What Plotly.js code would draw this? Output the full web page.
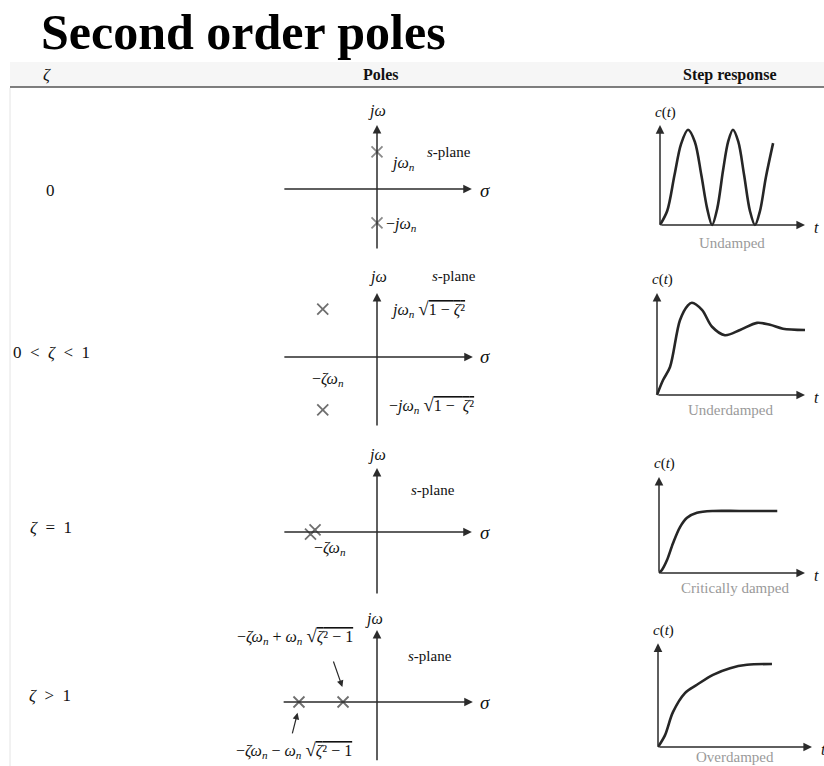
<!DOCTYPE html>
<html><head><meta charset="utf-8">
<script src="https://cdn.plot.ly/plotly-3.0.1.min.js"></script>
<style>html,body{margin:0;padding:0;background:#fff}</style>
</head><body><div id="plot" style="width:824px;height:766px"></div>
<script>
// ---------- data ----------
const rowLabels = ['0', '0  <  <i>ζ</i>  <  1', '<i>ζ</i>  =  1', '<i>ζ</i>  >  1'];
const captions = ['Undamped', 'Underdamped', 'Critically damped', 'Overdamped'];

// pole locations (units of ωn)
const polesUndampedRe = [0, 0];
const polesUndampedIm = [1.06, -0.97];
const polesUnderRe = [-1.55, -1.55];
const polesUnderIm = [1.37, -1.51];
const polesCriticalRe = [-1.77, -1.9];
const polesCriticalIm = [0.06, -0.06];
const polesOverRe = [-2.23, -0.97];
const polesOverIm = [0, 0];

// step responses c(t)
const undampedT = [0, 0.5, 1.0, 1.45, 1.93, 2.4, 2.85, 3.25, 3.59, 3.95, 4.35, 4.7, 5.03, 5.4, 5.8, 6.2, 6.55, 6.9, 7.3, 7.8];
const undampedC = [0, 0.3, 1.05, 1.7, 2.0, 1.75, 1.05, 0.35, 0.0, 0.35, 1.15, 1.75, 2.0, 1.75, 1.05, 0.3, 0.0, 0.3, 1.0, 1.72];
const underT = [0, 0.41, 0.88, 1.55, 2.09, 2.36, 3.04, 3.72, 4.59, 5.61, 6.76, 7.64, 8.51, 10.0];
const underC = [0, 0.23, 0.43, 1.15, 1.38, 1.42, 1.31, 1.05, 0.92, 1.0, 1.11, 1.08, 1.02, 1.0];
const criticalT = [0, 0.2, 0.55, 0.96, 1.44, 1.92, 2.6, 3.7, 5.5, 8.1];
const criticalC = [0, 0.05, 0.21, 0.48, 0.74, 0.89, 0.97, 1.0, 1.0, 1.0];
const overT = [0, 0.45, 0.97, 1.75, 2.53, 3.57, 4.68, 5.78, 7.4];
const overC = [0, 0.14, 0.42, 0.65, 0.75, 0.87, 0.95, 0.99, 1.0];

// ---------- layout helpers ----------
const W = 824, H = 766;
const PX = x => x / W, PY = y => 1 - y / H;
const SERIF = 'Liberation Serif, Times New Roman, serif';
const INK = '#2b2b2b';

const layout = {
  width: W, height: H, margin: {l: 0, r: 0, t: 0, b: 0},
  paper_bgcolor: '#fff', plot_bgcolor: 'rgba(0,0,0,0)',
  showlegend: false, annotations: [], shapes: []
};
const traces = [];

function addAxes(i, ox, oy, kx, ky, x0, x1, y0, y1) {
  const s = i === 1 ? '' : String(i);
  layout['xaxis' + s] = {domain: [PX(x0), PX(x1)], range: [(x0 - ox) / kx, (x1 - ox) / kx],
    visible: false, fixedrange: true, anchor: 'y' + s};
  layout['yaxis' + s] = {domain: [PY(y1), PY(y0)], range: [(oy - y1) / ky, (oy - y0) / ky],
    visible: false, fixedrange: true, anchor: 'x' + s};
  return {x: 'x' + s, y: 'y' + s};
}
function arrowLine(ax, x0, y0, x1, y1, w, size) {
  layout.annotations.push({xref: ax.x, yref: ax.y, axref: ax.x, ayref: ax.y,
    x: x1, y: y1, ax: x0, ay: y0, text: '', showarrow: true,
    arrowhead: 2, arrowsize: size || 1.15, arrowwidth: w || 1.5, arrowcolor: INK, standoff: 0});
}
function txt(text, x, y, size, o) {
  o = o || {};
  layout.annotations.push({xref: 'paper', yref: 'paper', x: PX(x), y: PY(y), text: text,
    showarrow: false, xanchor: o.xa || 'center', yanchor: 'middle',
    font: {family: SERIF, size: size, color: o.color || '#111'}});
}

// ---------- header ----------
layout.shapes.push({type: 'rect', xref: 'paper', yref: 'paper', x0: PX(10), x1: 1, y0: PY(87), y1: PY(62),
  fillcolor: '#f6f6f6', line: {width: 0}, layer: 'below'});
layout.shapes.push({type: 'line', xref: 'paper', yref: 'paper', x0: PX(10), x1: 1, y0: PY(87), y1: PY(87),
  line: {color: '#555', width: 1.5}});
layout.shapes.push({type: 'line', xref: 'paper', yref: 'paper', x0: PX(10), x1: PX(10), y0: 0, y1: PY(88),
  line: {color: '#e4e4e4', width: 1}});
txt('<b>Second order poles</b>', 39, 32, 50, {xa: 'left', color: '#000'});
txt('<i>ζ</i>', 47, 74, 17);
txt('<b>Poles</b>', 381, 75, 16);
txt('<b>Step response</b>', 730, 75, 16);

// ---------- s-planes ----------
const K = 35;
const spRows = [
  {o: [377, 189], y: [100, 258], sx: [-2.69, 2.71], sy: [-1.74, 1.83], re: polesUndampedRe, im: polesUndampedIm},
  {o: [377, 357], y: [270, 432], sx: [-2.69, 2.74], sy: [-2.0, 1.83], re: polesUnderRe, im: polesUnderIm},
  {o: [377, 532], y: [445, 600], sx: [-2.69, 2.71], sy: [-1.8, 1.83], re: polesCriticalRe, im: polesCriticalIm},
  {o: [377, 702], y: [615, 766], sx: [-2.71, 2.74], sy: [-1.71, 2.06], re: polesOverRe, im: polesOverIm}
];
const spAx = [];
spRows.forEach((r, k) => {
  const ax = addAxes(k + 1, r.o[0], r.o[1], K, K, 265, 500, r.y[0], r.y[1]);
  spAx.push(ax);
  arrowLine(ax, r.sx[0], 0, r.sx[1], 0);
  arrowLine(ax, 0, r.sy[0], 0, r.sy[1]);
  traces.push({type: 'scatter', mode: 'markers', x: r.re, y: r.im, xaxis: ax.x, yaxis: ax.y,
    marker: {symbol: 'x-thin', size: 11, line: {width: 1.8, color: k === 0 ? '#8a8a8a' : '#6f6f6f'}},
    hoverinfo: 'skip', cliponaxis: false});
});

// s-plane labels
const SQ = (inner) => '<span style="font-size:19px">√</span><span style="text-decoration:overline">' + inner + '</span>';
// row 1
txt('<i>jω</i>', 377, 111, 16); txt('<i>σ</i>', 485, 190, 19);
txt('<i>s</i>-plane', 449, 152, 15); txt('<i>jω<sub>n</sub></i>', 389, 163, 16, {xa: 'left'});
txt('−<i>jω<sub>n</sub></i>', 384, 224, 16, {xa: 'left'});
// row 2
txt('<i>jω</i>', 378, 277, 16); txt('<i>σ</i>', 485, 357, 19);
txt('<i>s</i>-plane', 454, 276, 15);
txt('<i>jω<sub>n</sub></i> ' + SQ('1 − <i>ζ</i>²'), 389, 309, 16, {xa: 'left'});
txt('−<i>ζω<sub>n</sub></i>', 328, 379, 16);
txt('−<i>jω<sub>n</sub></i> ' + SQ('1 −  <i>ζ</i>²'), 387, 405, 16, {xa: 'left'});
// row 3
txt('<i>jω</i>', 377, 455, 16); txt('<i>σ</i>', 485, 532, 19);
txt('<i>s</i>-plane', 433, 490, 15); txt('−<i>ζω<sub>n</sub></i>', 330, 548, 16);
// row 4
txt('<i>jω</i>', 374, 619, 16); txt('<i>σ</i>', 485, 702, 19);
txt('<i>s</i>-plane', 430, 656, 15);
txt('−<i>ζω<sub>n</sub></i> + <i>ω<sub>n</sub></i> ' + SQ('<i>ζ</i>² − 1'), 295, 636, 16);
txt('−<i>ζω<sub>n</sub></i> − <i>ω<sub>n</sub></i> ' + SQ('<i>ζ</i>² − 1'), 294, 750, 16);
arrowLine(spAx[3], -1.26, 1.2, -0.99, 0.43, 1.2, 1.1);
arrowLine(spAx[3], -2.43, -0.94, -2.27, -0.31, 1.2, 1.1);

// row labels
txt(rowLabels[0], 50, 191, 17);
txt(rowLabels[1], 51, 352, 17);
txt(rowLabels[2], 51, 527, 17);
txt(rowLabels[3], 50, 695, 17);

// ---------- step responses ----------
const stRows = [
  {o: [660, 225], kx: 14.5, ky: 47.6, y: [105, 240], top: 2.1, t: undampedT, c: undampedC, cap: [732, 243]},
  {o: [657, 395], kx: 14.8, ky: 65, y: [270, 410], top: 1.57, t: underT, c: underC, cap: [730, 410]},
  {o: [659, 573], kx: 14.6, ky: 62, y: [450, 590], top: 1.55, t: criticalT, c: criticalC, cap: [735, 588]},
  {o: [658, 747], kx: 15.4, ky: 83, y: [620, 766], top: 1.25, t: overT, c: overC, cap: [735, 757]}
];
stRows.forEach((r, k) => {
  const ax = addAxes(k + 5, r.o[0], r.o[1], r.kx, r.ky, 640, 824, r.y[0], r.y[1]);
  arrowLine(ax, 0, 0, 10, 0);
  arrowLine(ax, 0, 0, 0, r.top);
  traces.push({type: 'scatter', mode: 'lines', x: r.t, y: r.c, xaxis: ax.x, yaxis: ax.y,
    line: {color: '#262626', width: 2.6, shape: 'spline', smoothing: 0.9}, hoverinfo: 'skip'});
  txt('<i>c</i>(<i>t</i>)', r.o[0] + 5, r.o[1] - r.top * r.ky - 13, 15);
  txt('<i>t</i>', r.o[0] + 10 * r.kx + 11, r.o[1] + 2, 16);
  txt(captions[k], r.cap[0], r.cap[1], 15, {color: '#9a9a9a'});
});

Plotly.newPlot('plot', traces, layout, {staticPlot: true, displayModeBar: false});
</script></body></html>
